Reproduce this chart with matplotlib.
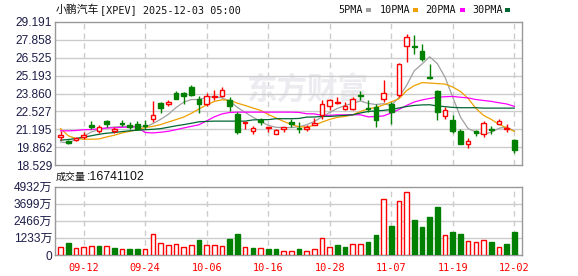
import numpy as np
import matplotlib.pyplot as plt
from matplotlib.patches import Rectangle

plt.rcParams['font.family'] = ['Liberation Sans', 'Noto Sans CJK SC']

# daily OHLC, 2025-09-09 .. 2025-12-02
opens = [20.60, 20.32, 20.38, 20.58, 21.49, 21.07, 21.81, 21.07, 21.69, 21.51,
         21.56, 21.49, 21.93, 23.17, 23.10, 23.88, 23.91, 24.33, 23.47, 23.04,
         23.58, 23.71, 23.41, 22.35, 21.64, 21.04, 21.86, 21.29, 20.86, 21.24,
         21.71, 21.32, 21.21, 21.51, 22.23, 22.92, 23.12, 22.72, 22.72, 23.78,
         22.80, 22.84, 23.47, 23.04, 23.78, 27.41, 27.38, 27.04, 25.12, 24.01,
         22.18, 21.86, 21.04, 20.06, 21.04, 20.87, 21.23, 21.56, 21.23, 20.38]
highs = [21.04, 20.43, 20.60, 20.99, 21.78, 21.54, 21.91, 21.36, 21.86, 21.71,
         21.78, 21.86, 23.27, 23.20, 23.34, 24.08, 23.95, 24.50, 23.64, 23.88,
         24.13, 24.33, 23.58, 22.47, 21.71, 21.41, 22.06, 21.36, 21.24, 21.36,
         21.99, 21.73, 21.49, 22.06, 23.34, 23.46, 23.58, 23.21, 23.58, 24.05,
         23.34, 23.04, 24.87, 23.21, 26.10, 28.28, 28.23, 27.54, 26.06, 24.13,
         22.84, 22.23, 21.24, 20.52, 21.11, 21.78, 21.44, 21.99, 21.62, 20.46]
lows = [20.41, 20.08, 20.30, 20.50, 21.24, 20.92, 21.36, 20.95, 21.43, 21.24,
        21.17, 21.24, 21.71, 22.40, 22.92, 23.46, 23.04, 23.71, 22.43, 22.92,
        23.39, 23.58, 22.55, 20.86, 21.24, 20.87, 21.49, 20.99, 20.82, 20.99,
        21.36, 20.95, 21.07, 21.49, 21.98, 22.60, 23.10, 22.60, 22.60, 23.34,
        22.47, 21.36, 23.21, 21.61, 23.58, 26.18, 26.84, 26.30, 24.95, 21.86,
        21.93, 20.95, 20.13, 19.83, 20.70, 20.58, 20.82, 21.56, 20.99, 19.43]
closes = [20.75, 20.18, 20.52, 20.80, 21.38, 21.36, 21.56, 21.24, 21.58, 21.36,
          21.23, 21.40, 22.23, 22.80, 23.22, 23.47, 23.71, 23.78, 23.04, 23.66,
          23.71, 24.13, 22.92, 20.99, 21.71, 21.29, 21.71, 21.36, 21.17, 21.36,
          21.56, 21.21, 21.38, 21.66, 23.08, 23.34, 23.21, 22.95, 23.47, 23.64,
          22.67, 21.86, 23.88, 22.45, 26.06, 28.08, 27.32, 26.43, 25.01, 22.47,
          22.60, 21.08, 20.13, 20.30, 20.93, 21.66, 21.12, 21.78, 21.29, 19.63]
# volume in 万 shares
volumes = [543, 846, 472, 564, 635, 684, 684, 472, 402, 402,
           402, 402, 1530, 895, 705, 825, 543, 705, 1058, 754,
           705, 635, 1128, 1480, 543, 472, 472, 423, 423, 282,
           260, 402, 282, 402, 1248, 543, 705, 543, 825, 775,
           938, 1410, 4068, 2115, 3878, 4512, 2538, 1995, 2750, 3455,
           1410, 1643, 1480, 987, 917, 1058, 938, 543, 775, 1674]

ma5 = [20.25, 20.18, 20.43, 20.67, 20.99, 21.17, 21.30, 21.36, 21.41, 21.41,
       21.41, 21.36, 21.61, 21.93, 22.30, 22.80, 23.21, 23.41, 23.41, 23.58,
       23.64, 23.53, 23.30, 22.82, 22.45, 22.10, 21.78, 21.49, 21.34, 21.32,
       21.32, 21.38, 21.53, 21.78, 22.10, 22.45, 22.75, 22.97, 23.12, 23.30,
       23.12, 23.04, 23.10, 22.97, 23.58, 24.47, 25.56, 26.06, 26.60, 26.08,
       25.06, 23.58, 22.10, 21.24, 20.99, 20.82, 20.97, 21.27, 21.36, 21.07]
ma10 = [21.24, 20.71, 20.50, 20.45, 20.45, 20.47, 20.62, 20.75, 20.92, 21.04,
        21.17, 21.32, 21.41, 21.54, 21.73, 21.91, 22.10, 22.38, 22.71, 23.01,
        23.27, 23.39, 23.34, 23.14, 22.97, 22.78, 22.60, 22.30, 22.04, 21.78,
        21.56, 21.38, 21.36, 21.49, 21.73, 21.93, 22.08, 22.15, 22.27, 22.52,
        22.71, 22.82, 23.01, 23.23, 23.47, 24.08, 24.45, 24.67, 24.64, 24.60,
        24.56, 24.34, 24.01, 23.49, 22.75, 22.23, 21.93, 21.56, 21.30, 21.04]
ma20 = [21.08, 21.08, 21.10, 21.16, 21.17, 21.23, 21.29, 21.30, 21.34, 21.36,
        21.36, 20.95, 20.92, 20.97, 21.04, 21.16, 21.29, 21.41, 21.53, 21.82,
        22.12, 22.34, 22.45, 22.47, 22.47, 22.47, 22.47, 22.47, 22.47, 22.47,
        22.47, 22.45, 22.35, 22.34, 22.23, 22.23, 22.27, 22.27, 22.28, 22.27,
        22.12, 22.14, 22.19, 22.41, 22.67, 22.97, 23.23, 23.38, 23.49, 23.58,
        23.62, 23.64, 23.58, 23.53, 23.41, 23.34, 23.27, 23.17, 23.08, 22.90]
ma30 = [20.38, 20.43, 20.50, 20.60, 20.71, 20.82, 20.90, 20.95, 21.02, 21.08,
        21.12, 21.16, 21.19, 21.24, 21.34, 21.45, 21.54, 21.64, 21.75, 21.78,
        21.80, 21.80, 21.80, 21.80, 21.80, 21.89, 21.91, 21.91, 21.98, 21.98,
        21.98, 22.00, 22.10, 22.11, 22.15, 22.15, 22.19, 22.23, 22.27, 22.41,
        22.52, 22.56, 22.60, 22.67, 22.78, 22.89, 22.97, 23.01, 23.02, 22.93,
        22.88, 22.82, 22.80, 22.80, 22.80, 22.77, 22.77, 22.77, 22.77, 22.77]

tick_idx = [3, 11, 19, 27, 35, 43, 51, 59]
tick_dates = ['09-12', '09-24', '10-06', '10-16', '10-28', '11-07', '11-19', '12-02']
price_ticks = [18.529, 19.862, 21.195, 22.527, 23.860, 25.193, 26.525, 27.858, 29.191]
price_labels = ['18.529', '19.862', '21.195', '22.527', '23.860', '25.193', '26.525', '27.858', '29.191']
vol_ticks = [0, 1233, 2466, 3699, 4932]
vol_labels = ['0', '1233万', '2466万', '3699万', '4932万']
last_vol = '16741102'

RED = '#ff0000'
GREEN = '#008000'
LBL = '#1c1c48'
ma_colors = ['#a0a0a0', '#f0a000', '#ff00ff', '#006633']
ma_names = ['5PMA', '10PMA', '20PMA', '30PMA']

W, H = 578, 276
fig = plt.figure(figsize=(W / 100, H / 100), dpi=100)
ax1 = fig.add_axes([55 / W, 1 - 165 / H, 467 / W, 143 / H])
ax2 = fig.add_axes([55 / W, 1 - 255 / H, 467 / W, 68.5 / H])

x = np.arange(len(closes))
o = np.array(opens); c = np.array(closes)
up = c >= o

for ax in (ax1, ax2):
    ax.set_xlim(-0.72, 60.0)
    for s in ax.spines.values():
        s.set_color('#999999')
        s.set_linewidth(1)
    ax.tick_params(length=0, labelsize=8.6, labelcolor=LBL, pad=2)
    ax.set_xticks(tick_idx)
    for t in tick_idx:
        ax.axvline(t, color='#cccccc', lw=1, ls=(0, (4, 3)), zorder=0)

# watermark
ax1.text(0.54, 0.53, '东方财富', transform=ax1.transAxes, ha='center', va='center',
         fontsize=22, fontweight='bold', color='#ececf0', family=['Noto Sans CJK SC'],
         zorder=0)

# price panel
ax1.set_ylim(18.529, 29.191)
ax1.set_yticks(price_ticks)
ax1.set_yticklabels(price_labels)
ax1.set_xticklabels([])
for p in price_ticks[1:-1]:
    ax1.axhline(p, color='#cccccc', lw=1, zorder=0)

for k, ma in enumerate([ma5, ma10, ma20, ma30]):
    ax1.plot(x, ma, color=ma_colors[k], lw=0.9, zorder=2)

for i in x:
    col = RED if up[i] else GREEN
    ax1.vlines(i, lows[i], highs[i], color=col, lw=1, zorder=3)
    lo, hi = min(o[i], c[i]), max(o[i], c[i])
    ax1.add_patch(Rectangle((i - 0.3, lo), 0.6, max(hi - lo, 0.01),
                            facecolor='white' if up[i] else GREEN,
                            edgecolor=col, lw=1, zorder=4))

# volume panel
vol_up = [c[0] >= o[0]] + [c[i] >= c[i - 1] for i in range(1, len(c))]
ax2.set_ylim(0, 4932)
ax2.set_yticks(vol_ticks)
ax2.set_yticklabels(vol_labels)
for v in vol_ticks[1:-1]:
    ax2.axhline(v, color='#cccccc', lw=1, zorder=0)
ax2.bar(x, volumes, width=0.6,
        color=['white' if u else GREEN for u in vol_up],
        edgecolor=[RED if u else GREEN for u in vol_up], lw=1, zorder=3)
ax2.set_xticklabels(tick_dates, color=RED, family='DejaVu Sans Mono', fontsize=7.4)
ax2.tick_params(axis='x', pad=6)

# header texts
fig.text(56 / W, 1 - 10 / H, '小鹏汽车', family=['Noto Sans CJK SC'], fontsize=7.8,
         va='center', color='#111111')
fig.text(100 / W, 1 - 10 / H, '[XPEV] 2025-12-03 05:00', family='DejaVu Sans Mono',
         fontsize=7.3, va='center', color='#111111')
leg_x = [338, 380, 425, 472]
sq_x = [366, 413, 460, 505]
for k in range(4):
    fig.text(leg_x[k] / W, 1 - 10 / H, ma_names[k], family='DejaVu Sans Mono',
             fontsize=7.3, va='center', color='#111111')
    fig.patches.append(Rectangle((sq_x[k] / W, 1 - 11.5 / H), 5 / W, 3 / H,
                                 facecolor=ma_colors[k], edgecolor='none',
                                 transform=fig.transFigure, figure=fig))
fig.text(56 / W, 1 - 177 / H, '成交量', family=['Noto Sans CJK SC'], fontsize=7.2,
         va='center', color='#111111')
fig.text(87 / W, 1 - 177 / H, ':' + last_vol, fontsize=8.9, va='center', color='#111111')

fig.savefig('out.png', dpi=100)
